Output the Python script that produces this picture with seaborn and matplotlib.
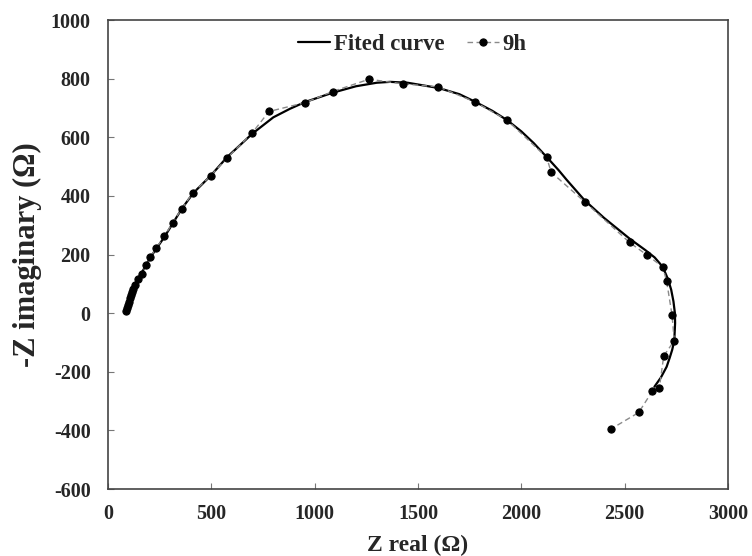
import matplotlib
matplotlib.use("Agg")
import matplotlib.pyplot as plt
import seaborn as sns
import pandas as pd

# Measured data (9h)
z_real_9h = [87, 90, 95, 100, 105, 109, 114, 123, 131, 145, 165, 184, 205, 234, 273,
             313, 357, 410, 497, 576, 698, 779, 953, 1087, 1263, 1429, 1599, 1774,
             1932, 2123, 2144, 2306, 2524, 2610, 2684, 2703, 2729, 2740, 2689, 2668,
             2634, 2568, 2432]
z_imag_9h = [8, 18, 27, 39, 50, 61, 73, 84, 95, 115, 135, 165, 191, 223, 262,
             309, 356, 410, 469, 529, 615, 688, 718, 756, 798, 782, 772, 721,
             658, 531, 481, 380, 241, 197, 158, 109, -6, -94, -146, -254,
             -266, -339, -396]

# Fitted curve
z_real_fit = [88, 110, 130, 165, 205, 275, 357, 413, 497, 576, 698, 800, 880, 953,
              1087, 1200, 1300, 1365, 1450, 1600, 1700, 1774, 1860, 1932, 2000, 2060,
              2130, 2180, 2219, 2306, 2400, 2524, 2600, 2645, 2672, 2692, 2710, 2725,
              2736, 2743, 2744, 2740, 2730, 2718, 2703, 2675, 2644]
z_imag_fit = [5, 60, 100, 140, 190, 262, 356, 410, 469, 532, 612, 668, 697, 720,
              752, 774, 786, 789, 786, 768, 747, 722, 690, 658, 620, 580,
              527, 488, 455, 385, 325, 254, 215, 190, 168, 145, 115, 80,
              40, 0, -34, -94, -125, -152, -183, -220, -251]

fit_df = pd.DataFrame({"x": z_real_fit, "y": z_imag_fit})
dat_df = pd.DataFrame({"x": z_real_9h, "y": z_imag_9h})

sns.set_style("ticks")
plt.rcParams["font.family"] = ["Liberation Serif", "DejaVu Serif"]
plt.rcParams["font.weight"] = "bold"
plt.rcParams["axes.unicode_minus"] = False

fig = plt.figure(figsize=(7.52, 5.56), dpi=100)
ax = fig.add_axes([0.1436, 0.1205, 0.8245, 0.8435])

sns.lineplot(data=fit_df, x="x", y="y", sort=False, estimator=None, ax=ax,
             color="black", linewidth=1.6, label="Fited curve")
sns.lineplot(data=dat_df, x="x", y="y", sort=False, estimator=None, ax=ax,
             color="#8a8a8a", linewidth=1.0, linestyle=(0, (4, 2.5)),
             marker="o", markersize=5.2, markerfacecolor="black",
             markeredgecolor="black", label="9h")

ax.set_xlim(0, 3000)
ax.set_ylim(-600, 1000)
ax.set_xticks(range(0, 3001, 500))
ax.set_yticks(range(-600, 1001, 200))
ax.tick_params(direction="in", length=4, width=0.8, color="#777777",
               labelsize=14.5)
ax.tick_params(axis="x", pad=10.5)
ax.tick_params(axis="y", pad=12.5)
for lab in ax.get_xticklabels() + ax.get_yticklabels():
    lab.set_fontweight("bold")
for s in ax.spines.values():
    s.set_visible(True)
    s.set_color("#444444")
    s.set_linewidth(1.2)

ax.set_xlabel("Z real (Ω)", fontsize=17, fontweight="bold")
ax.set_ylabel("-Z imaginary (Ω)", fontsize=22, fontweight="bold")
ax.xaxis.set_label_coords(0.5, -0.098)
ax.yaxis.set_label_coords(-0.106, 0.5)

leg = ax.legend(loc="center", bbox_to_anchor=(0.491, 0.947), ncol=2, frameon=False,
                prop={"size": 16.4, "weight": "bold"}, handlelength=1.4,
                handletextpad=0.15, columnspacing=1.0, borderpad=0.2)

fig.savefig("out.png", dpi=100)
